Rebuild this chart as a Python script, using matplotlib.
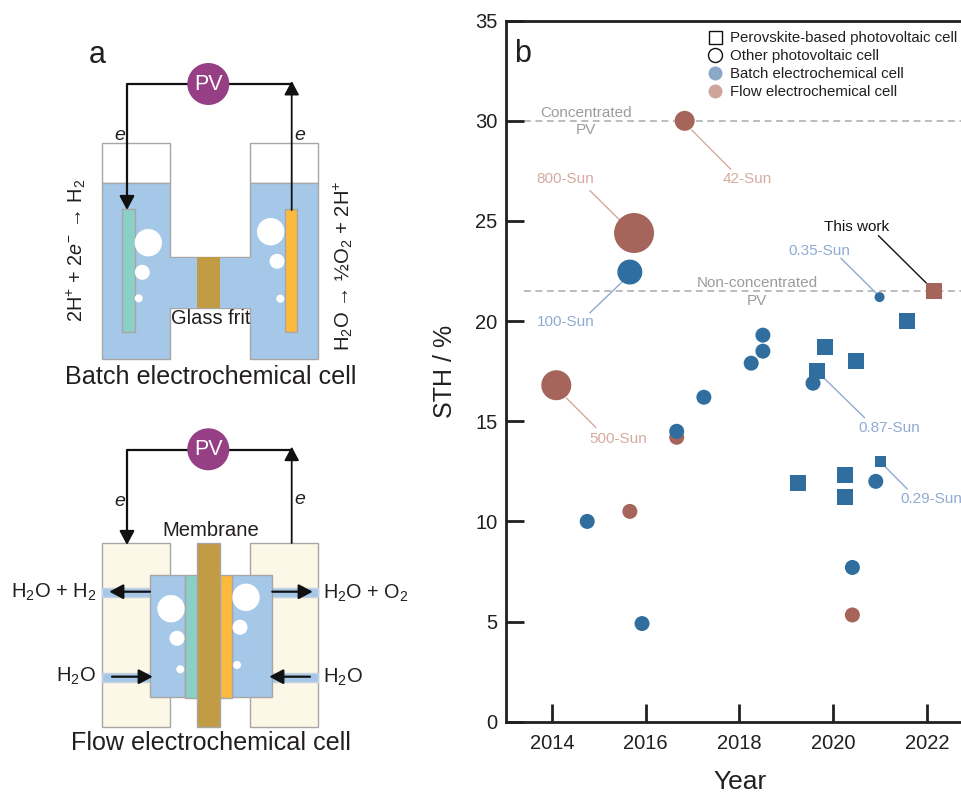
import matplotlib
matplotlib.use('Agg')
import matplotlib.pyplot as plt
from matplotlib.lines import Line2D
from matplotlib.patches import Rectangle, Circle

plt.rcParams['font.family'] = ['Liberation Sans', 'DejaVu Sans']
plt.rcParams['mathtext.fontset'] = 'custom'
plt.rcParams['mathtext.rm'] = 'Liberation Sans'
plt.rcParams['mathtext.it'] = 'Liberation Sans:italic'
plt.rcParams['mathtext.default'] = 'regular'

# datos
batch_circle_year = [2014.75, 2015.92, 2016.66, 2017.24, 2018.25, 2018.50, 2018.50, 2019.57, 2020.91, 2020.41, 2015.66, 2020.99]
batch_circle_sth = [10.0, 4.9, 14.5, 16.2, 17.9, 18.5, 19.3, 16.9, 12.0, 7.7, 22.45, 21.2]
batch_circle_size = [15, 15, 15, 15, 15, 15, 15, 15, 15, 15, 25, 10]

flow_circle_year = [2014.09, 2016.66, 2015.66, 2020.41, 2016.83, 2015.75]
flow_circle_sth = [16.8, 14.2, 10.5, 5.33, 30.0, 24.4]
flow_circle_size = [30, 15, 15, 15, 20, 40]

batch_square_year = [2019.25, 2019.83, 2019.66, 2020.49, 2020.25, 2020.25, 2021.00, 2021.58]
batch_square_sth = [11.9, 18.7, 17.5, 18.0, 12.3, 11.2, 13.0, 20.0]
batch_square_size = [16, 16, 16, 16, 16, 16, 11, 16]

flow_square_year = [2022.16]
flow_square_sth = [21.5]
flow_square_size = [16]

limit_sth = [30.0, 21.5]
x_ticks = [2014, 2016, 2018, 2020, 2022]
y_ticks = [0, 5, 10, 15, 20, 25, 30, 35]
legend_labels = ['Perovskite-based photovoltaic cell', 'Other photovoltaic cell',
                 'Batch electrochemical cell', 'Flow electrochemical cell']

# etiqueta, pos. texto, inicio y fin de la linea guia, color
notes = [
    ('42-Sun', (2018.17, 27.08), (2016.98, 29.54), (2017.81, 27.59), 'flow'),
    ('800-Sun', (2014.28, 27.09), (2014.81, 26.51), (2015.43, 25.08), 'flow'),
    ('500-Sun', (2015.41, 14.13), (2014.31, 16.15), (2014.93, 14.70), 'flow'),
    ('100-Sun', (2014.30, 19.95), (2015.50, 21.97), (2014.81, 20.42), 'batch'),
    ('0.35-Sun', (2019.71, 23.51), (2020.17, 23.13), (2020.92, 21.39), 'batch'),
    ('0.87-Sun', (2021.19, 14.68), (2019.81, 17.14), (2020.67, 15.18), 'batch'),
    ('0.29-Sun', (2022.09, 11.10), (2021.11, 12.73), (2021.58, 11.62), 'batch'),
    ('This work', (2020.50, 24.71), (2020.97, 24.26), (2022.01, 21.85), 'black'),
]

C_BATCH = '#2f6e9e'
C_FLOW = '#a5655a'
note_colors = {'flow': '#d5aa9f', 'batch': '#8fabd1', 'black': '#111111'}
C_DARK = '#231f20'
C_LIQ = '#a5c8e8'
C_EDGE = '#a6a6a6'
C_TEAL = '#8ad0c7'
C_ORANGE = '#fbb93e'
C_FRIT = '#c29b45'
C_CREAM = '#fdf7e8'
C_PV = '#963f85'

W, H = 962, 794
fig = plt.figure(figsize=(W / 100, H / 100), dpi=100)


def px(d):
    # pixeles a puntos
    return d * 0.72


# ---------- panel a (esquema en pixeles) ----------
sk = fig.add_axes([0, 0, 1, 1])
sk.set_xlim(0, W)
sk.set_ylim(H, 0)
sk.axis('off')


def box(x0, x1, y0, y1, fc, ec=C_EDGE, z=2):
    sk.add_patch(Rectangle((x0, y0), x1 - x0, y1 - y0, fc=fc, ec=ec, lw=1.0, zorder=z))


def bubbles(lista):
    for (x, y), r in zip(lista, [13.7, 7.5, 4]):
        sk.add_patch(Circle((x, y), r, fc='white', ec='none', zorder=4))


def arrow(x0, y0, x1, y1, lw=1.6):
    sk.annotate('', xy=(x1, y1), xytext=(x0, y0), zorder=6,
                arrowprops=dict(arrowstyle='-|>,head_length=0.6,head_width=0.32', color='#111111',
                                lw=lw, mutation_scale=14, shrinkA=0, shrinkB=0))


def circuit(y_top, y_left, y_right, y_pv):
    sk.plot([127, 127, 187], [y_left - 8, y_top, y_top], color='#111111', lw=1.6, zorder=5)
    sk.plot([229, 291.7], [y_top, y_top], color='#111111', lw=1.6, zorder=5)
    arrow(127, y_left - 8, 127, y_left)
    arrow(291.7, y_right, 291.7, y_top - 3, lw=1.3)
    sk.add_patch(Circle((208.3, y_pv), 21, fc=C_PV, ec='none', zorder=6))
    sk.text(208.3, y_pv, 'PV', color='white', fontsize=15.5, ha='center', va='center', zorder=7)


sk.text(97, 55, 'a', fontsize=22, ha='center', va='center', color=C_DARK)

# celda batch
box(102.3, 169.7, 143.3, 183.3, 'white')
box(250.3, 317.7, 143.3, 183.3, 'white')
box(102.3, 169.7, 183.3, 359.3, C_LIQ)
box(250.3, 317.7, 183.3, 359.3, C_LIQ)
box(169.7, 250.3, 257.3, 308.3, C_LIQ)
sk.add_patch(Rectangle((165, 258), 90, 49.8, fc=C_LIQ, ec='none', zorder=3))
box(197, 220.3, 257.3, 308.3, C_FRIT, ec='none', z=4)
box(122.3, 134.7, 209.3, 331.7, C_TEAL, z=4)
box(285, 297, 209.3, 331.7, C_ORANGE, z=4)
bubbles([(148.3, 242.7), (142.3, 272.3), (138.7, 298.3)])
bubbles([(270.7, 231.7), (277, 261.3), (280.3, 298.7)])
circuit(84, 210, 210, 84)
sk.text(120, 136, 'e', style='italic', fontsize=14, ha='center', va='center', color=C_DARK, zorder=7)
sk.text(299.3, 135, 'e', style='italic', fontsize=14, ha='center', va='center', color=C_DARK, zorder=7)
sk.text(210.7, 319, 'Glass frit', fontsize=14.4, ha='center', va='center', color=C_DARK, zorder=7)
sk.text(76, 250, r'2H$^{+}$ + 2$\mathit{e}^{-}$ → H$_{2}$', fontsize=14.3, rotation=90, ha='center', va='center', color=C_DARK)
sk.text(343, 266, 'H$_{2}$O → ½O$_{2}$ + 2H$^{+}$', fontsize=14.6, rotation=90, ha='center', va='center', color=C_DARK)
sk.text(211, 377, 'Batch electrochemical cell', fontsize=18.1, ha='center', va='center', color=C_DARK)

# celda de flujo
box(102.3, 169.7, 543.3, 726.7, C_CREAM)
box(250.3, 317.7, 543.3, 726.7, C_CREAM)
for y0, y1 in [(588.3, 596.7), (673.3, 681.7)]:
    box(102.3, 150, y0, y1, C_LIQ, ec='#c4d3dd')
    box(272.3, 317.7, y0, y1, C_LIQ, ec='#c4d3dd')
box(150, 185.3, 575, 697.3, C_LIQ, z=3)
box(232.3, 272.3, 575, 697.3, C_LIQ, z=3)
box(185.3, 197, 575, 698, C_TEAL, z=3)
box(220.3, 232.3, 575, 698, C_ORANGE, z=3)
box(197, 220.3, 543.3, 726.7, C_FRIT, z=4)
bubbles([(171, 608.7), (177, 638.3), (180.3, 669.3)])
bubbles([(246, 597.3), (240, 627.3), (237, 665)])
circuit(449.7, 545, 543, 449.3)
sk.text(120, 501, 'e', style='italic', fontsize=14, ha='center', va='center', color=C_DARK, zorder=7)
sk.text(299.3, 500, 'e', style='italic', fontsize=14, ha='center', va='center', color=C_DARK, zorder=7)
arrow(150, 591.7, 109.3, 591.7)
arrow(272.3, 591.7, 312.7, 591.7)
arrow(112, 676.7, 152.7, 676.7)
arrow(310, 676.7, 269.3, 676.7)
sk.text(211, 530, 'Membrane', fontsize=14.6, ha='center', va='center', color=C_DARK)
sk.text(97, 592.7, 'H$_{2}$O + H$_{2}$', fontsize=14.5, ha='right', va='center', color=C_DARK)
sk.text(323, 593, 'H$_{2}$O + O$_{2}$', fontsize=14.3, ha='left', va='center', color=C_DARK)
sk.text(96, 676, 'H$_{2}$O', fontsize=14.5, ha='right', va='center', color=C_DARK)
sk.text(323, 677, 'H$_{2}$O', fontsize=14.5, ha='left', va='center', color=C_DARK)
sk.text(210.7, 743.5, 'Flow electrochemical cell', fontsize=18.1, ha='center', va='center', color=C_DARK)

# ---------- panel b ----------
ax = fig.add_axes([505.7 / W, 1 - 721.7 / H, (W - 505.7) / W, 701 / H])
ax.patch.set_alpha(0)
ax.set_xlim(2013.01, 2022.75)
ax.set_ylim(0, 35)
for s in ['left', 'top', 'bottom']:
    ax.spines[s].set_linewidth(2.0)
    ax.spines[s].set_color(C_DARK)
ax.spines['right'].set_visible(False)
ax.set_xticks(x_ticks)
ax.set_yticks(y_ticks)
ax.tick_params(direction='in', length=13, width=2.0, color=C_DARK, labelcolor=C_DARK, labelsize=14.5)
ax.tick_params(axis='x', pad=9)
ax.tick_params(axis='y', pad=6)
ax.set_xlabel('Year', fontsize=19, color=C_DARK, labelpad=12, x=0.513)
ax.set_ylabel('STH / %', fontsize=18, color=C_DARK, labelpad=13)

for y in limit_sth:
    ax.plot([2013.41, 2022.75], [y, y], color='#a9a9a9', lw=1.1, ls=(0, (4.5, 3)), zorder=1)
ax.text(2014.72, 29.98, 'Concentrated\nPV', color='#9c9c9c', fontsize=11, ha='center', va='center', linespacing=1.3)
ax.text(2018.38, 21.46, 'Non-concentrated\nPV', color='#9c9c9c', fontsize=11, ha='center', va='center', linespacing=1.3)
ax.text(2013.37, 33.35, 'b', fontsize=22, ha='center', va='center', color=C_DARK)

for label, pos, start, end, kind in notes:
    col = note_colors[kind]
    ax.plot([start[0], end[0]], [start[1], end[1]], color=col, lw=1.0, zorder=2)
    ax.text(pos[0], pos[1], label, color=col, fontsize=11, ha='center', va='center', clip_on=False)

ax.scatter(flow_circle_year, flow_circle_sth, s=[px(d) ** 2 for d in flow_circle_size], c=C_FLOW, marker='o', linewidths=0, zorder=3)
ax.scatter(batch_circle_year, batch_circle_sth, s=[px(d) ** 2 for d in batch_circle_size], c=C_BATCH, marker='o', linewidths=0, zorder=4)
ax.scatter(batch_square_year, batch_square_sth, s=[px(d) ** 2 for d in batch_square_size], c=C_BATCH, marker='s', linewidths=0, zorder=5)
ax.scatter(flow_square_year, flow_square_sth, s=[px(d) ** 2 for d in flow_square_size], c=C_FLOW, marker='s', linewidths=0, zorder=5)

handles = [
    Line2D([], [], ls='none', marker='s', ms=px(13), mfc='white', mec='#111111', mew=1.0),
    Line2D([], [], ls='none', marker='o', ms=px(14), mfc='white', mec='#111111', mew=1.0),
    Line2D([], [], ls='none', marker='o', ms=px(14), mfc='#8ba8c8', mec='none'),
    Line2D([], [], ls='none', marker='o', ms=px(14), mfc='#cfa59b', mec='none'),
]
ax.legend(handles, legend_labels, loc='upper left', bbox_to_anchor=(0.435, 0.985), frameon=False, fontsize=10.8,
          labelspacing=0.26, handletextpad=0.25, handlelength=1.5, borderpad=0, borderaxespad=0, labelcolor=C_DARK)

fig.savefig('out.png', dpi=100)
